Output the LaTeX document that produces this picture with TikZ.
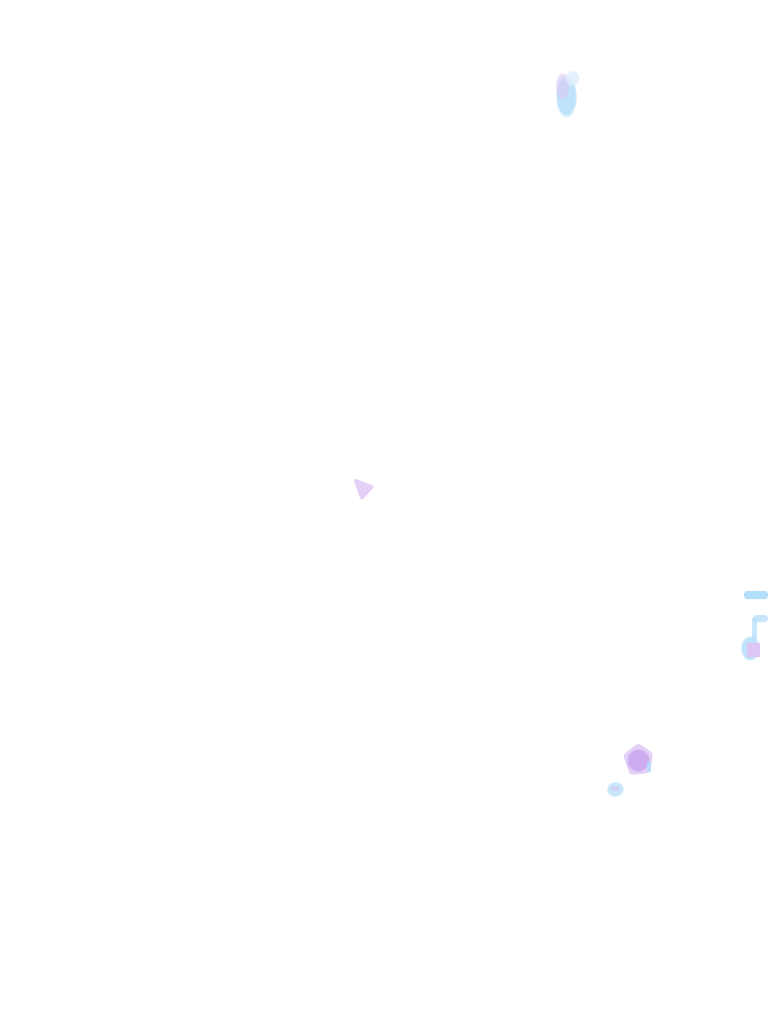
\documentclass[tikz,border=0pt]{standalone}
\usetikzlibrary{fadings}
\definecolor{blobblue}{RGB}{178,222,250}
\definecolor{bloblav}{RGB}{220,198,246}
\definecolor{blobpurple}{RGB}{196,156,238}
\definecolor{blobpale}{RGB}{222,238,252}
\tikzset{
  soft/.style={path fading=circle with fuzzy edge 20 percent},
  blue blob/.style={fill=blobblue, soft},
  lav blob/.style={fill=bloblav, soft},
  purple blob/.style={fill=blobpurple, soft},
}
\begin{document}
\begin{tikzpicture}[x=1pt,y=-1pt]
\useasboundingbox[fill=white] (0,0) rectangle (768,1024);
% top blob
\fill[blue blob, opacity=0.85] (566,96) ellipse (11 and 22);
\fill[lav blob, opacity=0.6] (562,86) ellipse (7 and 14);
\fill[fill=blobpale, soft, opacity=0.8] (572,78) circle (8);
% middle triangle
\fill[fill=bloblav, opacity=0.8, rounded corners=3pt] (353,478) -- (375,486) -- (361,501) -- cycle;
% right bar and hook
\fill[fill=blobblue, rounded corners=3pt] (744,591) rectangle (768,599);
\fill[fill=blobblue, opacity=0.7, rounded corners=3pt] (753,615) rectangle (768,622);
\fill[fill=blobblue, opacity=0.7] (752,618) rectangle (757,640);
\fill[blue blob, opacity=0.85] (750,648) ellipse (10 and 13);
\fill[fill=bloblav] (747,643) rectangle (760,657);
% lower pentagon
\fill[fill=bloblav, opacity=0.8, rounded corners=3pt] (638,743) -- (653,753) -- (650,773) -- (630,775) -- (623,755) -- cycle;
\fill[purple blob, opacity=0.7] (638,760) circle (12);
\fill[fill=blobblue, opacity=0.8] (647,762) rectangle (651,772);
\fill[blue blob, opacity=0.7] (615,789) ellipse (9 and 8);
\fill[fill=bloblav, opacity=0.6] (611,786) rectangle (619,791);
\end{tikzpicture}
\end{document}
